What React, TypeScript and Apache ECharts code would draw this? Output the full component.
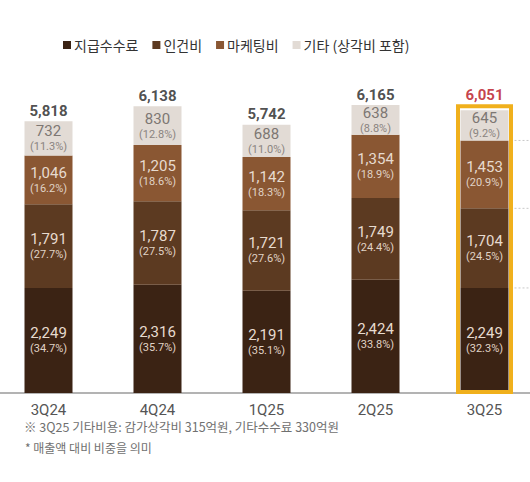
import React, { useEffect, useRef } from "react";
import * as echarts from "echarts";

const categories = ["3Q24", "4Q24", "1Q25", "2Q25", "3Q25"];
const fees = [2249, 2316, 2191, 2424, 2249];
const labor = [1791, 1787, 1721, 1749, 1704];
const marketing = [1046, 1205, 1142, 1354, 1453];
const other = [732, 830, 688, 638, 645];
const feesPct = ["34.7", "35.7", "35.1", "33.8", "32.3"];
const laborPct = ["27.7", "27.5", "27.6", "24.4", "24.5"];
const marketingPct = ["16.2", "18.6", "18.3", "18.9", "20.9"];
const otherPct = ["11.3", "12.8", "11.0", "8.8", "9.2"];
const totals = [5818, 6138, 5742, 6165, 6051];
const seriesNames = ["지급수수료", "인건비", "마케팅비", "기타 (상각비 포함)"];
const highlightIndex = 4;
const footnotes = [
  "※ 3Q25 기타비용: 감가상각비 315억원, 기타수수료 330억원",
  "* 매출액 대비 비중을 의미",
];

const FONT = "Roboto, 'Noto Sans CJK KR', sans-serif";
const KFONT = "'Noto Sans CJK KR', sans-serif";
const BAR_W = 48;
const colors = ["#3b2314", "#5c3a21", "#8a5733", "#e2dbd5"];

const fmt = (v: number) => v.toLocaleString("en-US");

export default function App() {
  const ref = useRef<HTMLDivElement>(null);
  useEffect(() => {
    document.body.style.margin = "0";
    if (!ref.current) return;
    const chart = echarts.init(ref.current, null, { renderer: "svg" });

    const segs = [fees, labor, marketing, other];
    const pcts = [feesPct, laborPct, marketingPct, otherPct];

    const barSeries = segs.map((arr, si) => ({
      name: seriesNames[si],
      type: "bar",
      stack: "cost",
      barWidth: BAR_W,
      itemStyle: { color: colors[si] },
      data: arr,
      label: {
        show: true,
        position: "inside",
        fontFamily: FONT,
        lineHeight: 15,
        formatter: (p: any) =>
          `{v|${fmt(p.value)}}\n{p|(${pcts[si][p.dataIndex]}%)}`,
        rich: {
          v: {
            fontSize: 15,
            fontFamily: FONT,
            color: si === 3 ? "#7d7773" : "#e7dbcf",
            lineHeight: 17,
          },
          p: {
            fontSize: 11,
            fontFamily: FONT,
            color: si === 3 ? "#8a8480" : "#e0d3c6",
            lineHeight: 14,
          },
        },
      },
    }));

    // cumulative boundaries of highlighted bar (excluding top)
    const boundaries: number[][] = [];
    let cum = 0;
    for (let si = 0; si < 3; si++) {
      cum += segs[si][highlightIndex];
      boundaries.push([highlightIndex, cum]);
    }

    const option: any = {
      animation: false,
      textStyle: { fontFamily: FONT },
      legend: {
        top: 33,
        left: 58,
        itemWidth: 8,
        itemHeight: 8,
        itemGap: 14,
        icon: "rect",
        data: seriesNames,
        textStyle: { fontSize: 14, color: "#333", fontFamily: KFONT, padding: [0, 0, 0, -2] },
      },
      grid: {
        left: -6,
        right: -9,
        top: 66,
        bottom: 89,
        containLabel: false,
        outerBoundsMode: "none",
      },
      xAxis: {
        type: "category",
        data: categories,
        axisTick: { show: false },
        axisLine: { lineStyle: { color: "#9a9a9a", width: 1.5 } },
        axisLabel: { fontSize: 15, color: "#555", margin: 9, fontFamily: FONT },
      },
      yAxis: {
        type: "value",
        min: 0,
        max: 7000,
        show: false,
        splitLine: { show: false },
      },
      series: [
        ...barSeries,
        {
          name: "total",
          type: "scatter",
          symbolSize: 0,
          z: 10,
          data: totals.map((t, i) => ({
            value: [i, t],
            label:
              i === highlightIndex
                ? { color: "#b8101c", distance: 8 }
                : undefined,
          })),
          label: {
            show: true,
            position: "top",
            distance: 3,
            fontSize: 15,
            fontWeight: "bold",
            color: "#222",
            fontFamily: FONT,
            formatter: (p: any) => fmt(p.value[1]),
          },
        },
        {
          name: "highlight",
          type: "custom",
          z: 20,
          silent: true,
          data: [[highlightIndex, totals[highlightIndex]]],
          renderItem: (params: any, api: any) => {
            const base = api.coord([api.value(0), 0]);
            const top = api.coord([api.value(0), api.value(1)]);
            const x0 = base[0] - BAR_W / 2 - 2.5;
            return {
              type: "rect",
              shape: {
                x: x0,
                y: top[1] - 4,
                width: BAR_W + 5,
                height: base[1] - top[1] + 3,
              },
              style: { fill: "none", stroke: "#f0b01c", lineWidth: 4 },
            };
          },
        },
        {
          name: "guides",
          type: "custom",
          z: 5,
          silent: true,
          data: boundaries,
          renderItem: (params: any, api: any) => {
            const p = api.coord([api.value(0), api.value(1)]);
            return {
              type: "line",
              shape: {
                x1: p[0] + BAR_W / 2 + 6,
                y1: p[1],
                x2: api.getWidth(),
                y2: p[1],
              },
              style: { stroke: "#c8c8c8", lineWidth: 1, lineDash: [2, 2] },
            };
          },
        },
      ],
      graphic: [
        {
          type: "text",
          left: 24,
          top: 420,
          style: {
            text: footnotes[0],
            fontSize: 12.5,
            fill: "#707070",
            fontFamily: KFONT,
          },
        },
        {
          type: "text",
          left: 25,
          top: 441,
          style: {
            text: footnotes[1],
            fontSize: 12,
            fill: "#707070",
            fontFamily: KFONT,
          },
        },
      ],
    };
    chart.setOption(option);
    return () => chart.dispose();
  }, []);
  return <div ref={ref} style={{ width: 530, height: 482 }} />;
}
